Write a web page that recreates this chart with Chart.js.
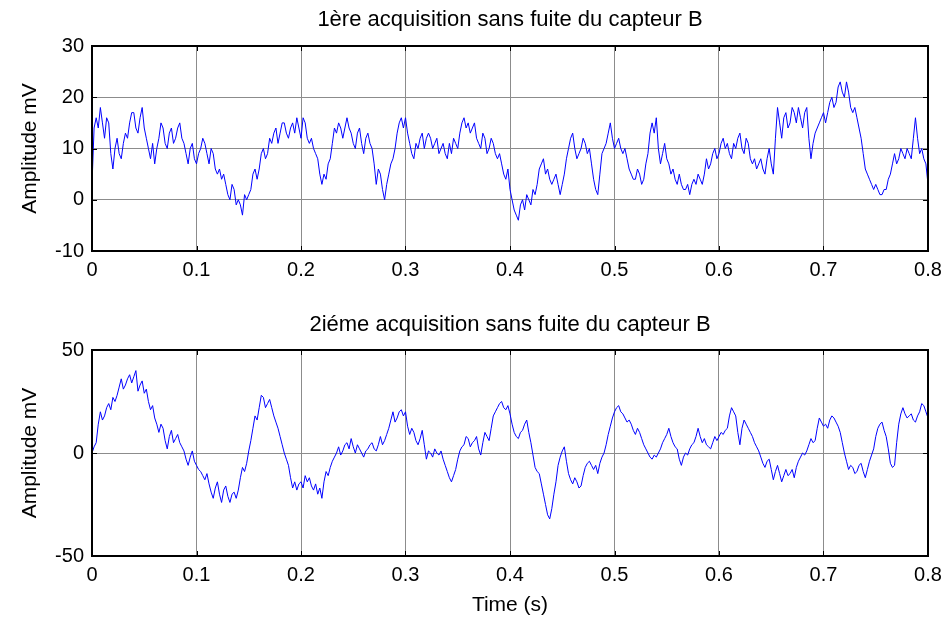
<!DOCTYPE html>
<html>
<head>
<meta charset="utf-8">
<script src="https://cdn.jsdelivr.net/npm/chart.js@4.4.1/dist/chart.umd.min.js"></script>
<style>
    html, body { margin: 0; padding: 0; background: #ffffff; }
    #page { position: relative; width: 949px; height: 621px; }
    .sub { position: absolute; left: 0; width: 949px; }
    #top-wrap { top: 0; height: 300px; }
    #bottom-wrap { top: 300px; height: 321px; }
</style>
</head>
<body>
<div id="page">
    <div class="sub" id="top-wrap"><canvas id="grafico-topo"></canvas></div>
    <div class="sub" id="bottom-wrap"><canvas id="grafico-baixo"></canvas></div>
</div>
<script>
// Deux acquisitions sans fuite du capteur B (subplots style MATLAB)

const sampleStep = 0.002; // s, pas de lecture des courbes
const xTickValues = [0, 0.1, 0.2, 0.3, 0.4, 0.5, 0.6, 0.7, 0.8];
const xTickLabels = ['0', '0.1', '0.2', '0.3', '0.4', '0.5', '0.6', '0.7', '0.8'];
const topYTicks = [-10, 0, 10, 20, 30];
const bottomYTicks = [-50, 0, 50];

const topTitle = '1ère acquisition sans fuite du capteur B';
const bottomTitle = '2iéme acquisition sans fuite du capteur B';

// 1ère acquisition (mV), un point tous les 2 ms, une ligne = 40 ms
const acquisition1 = [
    3, 14, 16, 14, 18, 15, 12, 16, 15, 9, 6, 10, 12, 9, 8, 11, 13, 12, 15, 17,
    17, 14, 13, 16, 18, 14, 12, 10, 8, 11, 7, 10, 12, 15, 14, 11, 10, 13, 14, 11,
    12, 14, 15, 12, 11, 9, 7, 10, 11, 8, 7, 9, 10, 12, 11, 9, 7, 10, 9, 6,
    5, 6, 4, 5, 3, 1, 0, 3, 2, -1, 0, -1, -3, 1, 0, 1, 2, 5, 6, 4,
    6, 9, 10, 8, 9, 12, 11, 13, 14, 11, 13, 15, 15, 13, 12, 14, 15, 13, 16, 14,
    12, 16, 15, 12, 11, 12, 10, 9, 8, 5, 3, 5, 4, 7, 8, 11, 14, 13, 15, 14,
    12, 14, 16, 14, 13, 11, 10, 13, 14, 11, 9, 12, 13, 11, 10, 7, 3, 6, 5, 2,
    0, 3, 5, 7, 8, 10, 13, 15, 16, 14, 16, 13, 11, 9, 8, 11, 10, 12, 13, 10,
    12, 13, 12, 10, 11, 12, 9, 10, 11, 9, 8, 11, 9, 12, 11, 10, 13, 15, 16, 14,
    15, 13, 14, 15, 12, 11, 10, 13, 12, 9, 10, 12, 11, 9, 8, 9, 7, 5, 4, 6,
    2, 0, -2, -3, -4, -1, 0, -2, 1, 0, -1, 2, 1, 3, 6, 7, 8, 5, 6, 4,
    3, 4, 5, 3, 1, 3, 5, 8, 10, 12, 13, 10, 8, 9, 10, 12, 11, 9, 10, 7,
    4, 2, 1, 5, 9, 10, 11, 13, 15, 12, 10, 11, 12, 10, 9, 10, 8, 6, 5, 4,
    4, 6, 5, 3, 4, 7, 9, 13, 15, 13, 16, 10, 7, 9, 11, 8, 7, 5, 6, 4,
    3, 5, 3, 2, 2, 3, 1, 3, 4, 3, 5, 4, 3, 5, 8, 6, 7, 9, 10, 8,
    9, 11, 12, 10, 11, 9, 8, 11, 10, 12, 13, 10, 9, 12, 11, 8, 7, 8, 6, 7,
    8, 6, 5, 8, 10, 7, 5, 12, 18, 15, 12, 16, 17, 14, 15, 18, 17, 15, 18, 16,
    14, 17, 18, 12, 8, 11, 13, 14, 15, 16, 17, 15, 17, 19, 20, 18, 19, 22, 23, 21,
    20, 23, 21, 18, 17, 18, 16, 14, 12, 9, 6, 5, 4, 3, 2, 3, 2, 1, 1, 2,
    2, 4, 5, 7, 9, 7, 8, 10, 9, 8, 10, 9, 8, 12, 16, 12, 9, 10, 8, 7,
    3
];

// 2iéme acquisition (mV)
const acquisition2 = [
    0, 3, 5, 14, 20, 16, 18, 22, 24, 21, 27, 25, 28, 32, 36, 31, 33, 36, 38, 34,
    37, 40, 30, 33, 35, 29, 31, 25, 21, 23, 17, 14, 10, 14, 12, 6, 2, 8, 11, 5,
    7, 9, 5, 3, 1, -3, -6, -2, 1, -4, -6, -8, -9, -11, -13, -10, -15, -19, -22, -17,
    -14, -20, -24, -18, -16, -21, -24, -20, -19, -22, -18, -12, -7, -9, -5, 1, 6, 12, 18, 16,
    22, 28, 27, 22, 24, 26, 22, 18, 15, 12, 8, 4, 0, -3, -6, -12, -17, -14, -18, -15,
    -14, -17, -11, -14, -12, -16, -18, -15, -20, -17, -22, -14, -9, -11, -7, -4, -2, 0, 3, -1,
    1, 4, 5, 2, 7, 3, 0, 4, 2, 0, -2, 1, 2, 4, 5, 2, 1, 4, 8, 4,
    6, 9, 12, 16, 20, 15, 17, 20, 21, 18, 20, 13, 9, 12, 10, 6, 4, 7, 11, 4,
    -3, 1, 0, -2, 2, 0, -1, 1, -3, -6, -9, -12, -14, -11, -8, -3, 1, 3, 4, 8,
    7, 3, 5, 6, 8, 2, -1, 5, 10, 8, 6, 12, 18, 20, 22, 24, 25, 22, 21, 23,
    19, 14, 10, 8, 7, 10, 11, 14, 16, 10, 5, -1, -7, -9, -10, -15, -20, -25, -30, -32,
    -27, -20, -14, -6, -2, 1, 3, -4, -10, -13, -15, -12, -14, -17, -16, -11, -7, -5, -4, -6,
    -8, -6, -10, -5, -2, 0, 4, 9, 13, 17, 20, 22, 23, 20, 19, 17, 15, 16, 14, 11,
    9, 12, 10, 7, 4, 2, 0, -2, -3, -1, -2, 0, 2, 5, 7, 9, 12, 8, 5, 3,
    2, -3, -6, -2, 0, -1, 2, 4, 5, 8, 12, 8, 5, 7, 4, 3, 2, 5, 8, 6,
    8, 10, 9, 11, 12, 18, 22, 20, 18, 10, 4, 12, 16, 14, 12, 10, 8, 5, 3, 1,
    -2, -5, -7, -4, -3, -8, -13, -9, -6, -10, -14, -11, -8, -11, -10, -8, -12, -7, -4, -2,
    0, -1, 1, 4, 7, 5, 6, 12, 17, 15, 13, 14, 12, 16, 18, 17, 15, 13, 10, 5,
    0, -4, -8, -6, -7, -10, -9, -6, -5, -9, -12, -8, -4, -1, 2, 8, 12, 14, 15, 11,
    8, 2, -5, -7, -6, 5, 14, 19, 22, 19, 17, 18, 19, 16, 15, 18, 20, 24, 23, 20,
    17
];

const fonte = "'Liberation Sans', Arial, Helvetica, sans-serif";
const corGrade = '#8c8c8c';

// Cadre noir + petites graduations internes (comme MATLAB)
const cadrePlugin = {
    id: 'cadre',
    afterDatasetsDraw(chart) {
        const { ctx, chartArea: a, scales } = chart;
        ctx.save();
        ctx.strokeStyle = '#000000';
        ctx.lineWidth = 1;
        ctx.beginPath();
        scales.x.ticks.forEach(t => {
            const px = Math.round(scales.x.getPixelForValue(t.value)) + 0.5;
            ctx.moveTo(px, a.bottom); ctx.lineTo(px, a.bottom - 5);
            ctx.moveTo(px, a.top); ctx.lineTo(px, a.top + 5);
        });
        scales.y.ticks.forEach(t => {
            const py = Math.round(scales.y.getPixelForValue(t.value)) + 0.5;
            ctx.moveTo(a.left, py); ctx.lineTo(a.left + 5, py);
            ctx.moveTo(a.right, py); ctx.lineTo(a.right - 5, py);
        });
        ctx.stroke();
        ctx.lineWidth = 2;
        ctx.strokeRect(a.left, a.top, a.right - a.left, a.bottom - a.top);
        ctx.restore();
    }
};

function montarPontos(valores) {
    return valores.map((v, i) => ({ x: i * sampleStep, y: v }));
}

function criarSubplot(canvasId, valores, titulo, yTicks, yMin, yMax, opts) {
    const ctx = document.getElementById(canvasId).getContext('2d');
    return new Chart(ctx, {
        type: 'line',
        data: {
            datasets: [{
                data: montarPontos(valores),
                borderColor: '#0000ff',
                borderWidth: 1,
                pointRadius: 0,
                tension: 0,
                fill: false
            }]
        },
        options: {
            responsive: true,
            maintainAspectRatio: false,
            animation: false,
            events: [],
            layout: { padding: { left: 0, right: 21, top: 0, bottom: 0 } },
            plugins: {
                legend: { display: false },
                tooltip: { enabled: false },
                title: {
                    display: true,
                    text: titulo,
                    fullSize: false,
                    color: '#000000',
                    font: { family: fonte, size: 22, weight: 'normal' },
                    padding: opts.titlePadding
                }
            },
            scales: {
                x: {
                    type: 'linear',
                    min: 0,
                    max: 0.8,
                    afterBuildTicks: s => { s.ticks = xTickValues.map(v => ({ value: v })); },
                    afterFit: s => { s.height = opts.xHeight; },
                    grid: { color: corGrade, lineWidth: 1, drawTicks: false },
                    border: { display: false },
                    ticks: {
                        color: '#000000',
                        font: { family: fonte, size: 20 },
                        padding: 7,
                        maxRotation: 0,
                        callback: (v, i) => xTickLabels[i]
                    },
                    title: {
                        display: opts.showXTitle,
                        text: 'Time (s)',
                        color: '#000000',
                        font: { family: fonte, size: 21 },
                        padding: { top: 0, bottom: 3.4 }
                    }
                },
                y: {
                    min: yMin,
                    max: yMax,
                    afterBuildTicks: s => { s.ticks = yTicks.map(v => ({ value: v })); },
                    afterFit: s => { s.width = 92; },
                    grid: { color: corGrade, lineWidth: 1, drawTicks: false },
                    border: { display: false },
                    ticks: {
                        color: '#000000',
                        font: { family: fonte, size: 20 },
                        padding: 8,
                        callback: v => String(v)
                    },
                    title: {
                        display: true,
                        text: 'Amplitude mV',
                        color: '#000000',
                        font: { family: fonte, size: 21 },
                        padding: { top: 17.4, bottom: 0 }
                    }
                }
            }
        },
        plugins: [cadrePlugin]
    });
}

criarSubplot('grafico-topo', acquisition1, topTitle, topYTicks, -10, 30, {
    titlePadding: { top: 7, bottom: 12.6 },
    xHeight: 49,
    showXTitle: false
});

criarSubplot('grafico-baixo', acquisition2, bottomTitle, bottomYTicks, -50, 50, {
    titlePadding: { top: 11.8, bottom: 11.8 },
    xHeight: 65,
    showXTitle: true
});
</script>
</body>
</html>
